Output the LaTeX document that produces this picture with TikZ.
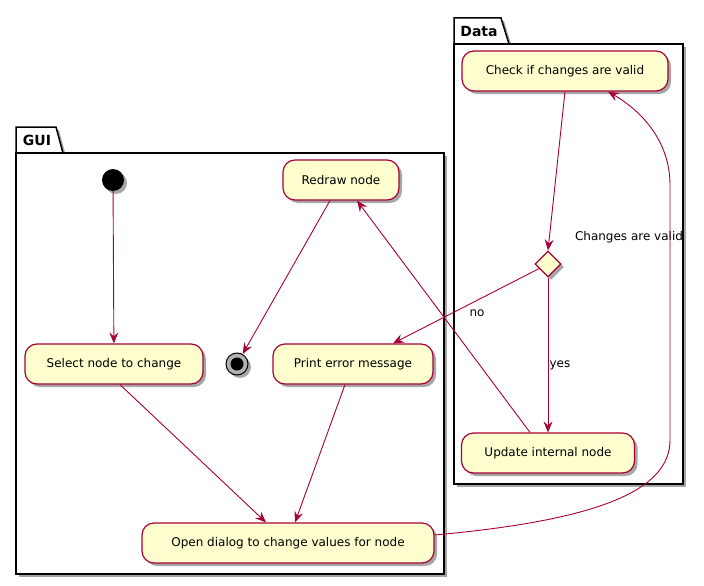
\documentclass[tikz,border=0pt]{standalone}
\usepackage{fontspec}
\setmainfont{DejaVu Sans}
\usetikzlibrary{arrows.meta,shapes.geometric,shadows}

\definecolor{actborder}{HTML}{A80036}
\definecolor{actfill}{HTML}{FEFECE}

\tikzset{
  shade/.style={drop shadow={shadow xshift=3pt,shadow yshift=-3pt,opacity=0.35,fill=black}},
  act/.style={draw=actborder, fill=actfill, line width=1.2pt, rounded corners=12pt,
    minimum height=40pt, inner xsep=10pt, font=\fontsize{12}{14}\selectfont, shade},
  flow/.style={draw=actborder, line width=0.9pt, -{Stealth[length=11pt,width=9pt,inset=4pt]}},
  pkg/.style={draw=black, fill=white, line width=1.5pt, shade},
  lbl/.style={font=\fontsize{12}{14}\selectfont, inner sep=1pt}
}

\begin{document}
\begin{tikzpicture}[x=1pt, y=-1pt]
\useasboundingbox (0,0) rectangle (704,586);

% packages
\filldraw[pkg] (16,127) -- (56,127) -- (63,153) -- (16,153) -- cycle;
\filldraw[pkg] (16,153) rectangle (444,574);
\node[font=\bfseries\fontsize{14}{16}\selectfont] (gui) at (37,140) {GUI};

\filldraw[pkg] (454,18) -- (501,18) -- (509,44) -- (454,44) -- cycle;
\filldraw[pkg] (454,44) rectangle (683,484);
\node[font=\bfseries\fontsize{14}{16}\selectfont] (data) at (479,31) {Data};

% GUI
\node[circle, fill=black, minimum size=22pt, inner sep=0pt, shade] (start) at (113,180) {};
\node[act, minimum width=116pt] (redraw) at (341,180) {Redraw node};
\node[act, minimum width=178pt] (select) at (114,364) {Select node to change};
\node[circle, draw=black, fill=gray!60, line width=1pt, minimum size=22pt, inner sep=0pt, shade] (stop) at (237,364) {};
\node[circle, fill=black, minimum size=13pt, inner sep=0pt] (stopdot) at (237,364) {};
\node[act, minimum width=160pt] (print) at (353,364) {Print error message};
\node[act, minimum width=292pt] (open) at (288,543) {Open dialog to change values for node};

% Data
\node[act, minimum width=206pt] (check) at (565,71) {Check if changes are valid};
\node[diamond, draw=actborder, fill=actfill, line width=1.2pt, minimum size=26pt, inner sep=0pt, shade] (valid) at (548,264) {};
\node[act, minimum width=173pt] (update) at (548,453) {Update internal node};

\node[lbl] (validlbl) at (629,237) {Changes are valid};
\node[lbl] (nolbl) at (477,313) {no};
\node[lbl] (yeslbl) at (560,365) {yes};

% flows
\draw[flow] (start) -- (select);
\draw[flow] (check.south) -- (valid.north);
\draw[flow] (valid) -- ([xshift=40pt]print.north);
\draw[flow] (valid.south) -- (update.north);
\draw[flow] ([xshift=-18pt]update.north) -- ([xshift=16pt]redraw.south);
\draw[flow] ([xshift=-11pt]redraw.south) -- (stop);
\draw[flow] ([xshift=6pt]select.south) -- ([xshift=-22pt]open.north);
\draw[flow] ([xshift=-8pt]print.south) -- ([xshift=7pt]open.north);
\draw[flow] ([yshift=8pt]open.east) .. controls (600,520) and (670,490) .. (670,440)
  -- (670,185) .. controls (670,140) and (640,110) .. ([xshift=43pt]check.south);
\end{tikzpicture}
\end{document}
